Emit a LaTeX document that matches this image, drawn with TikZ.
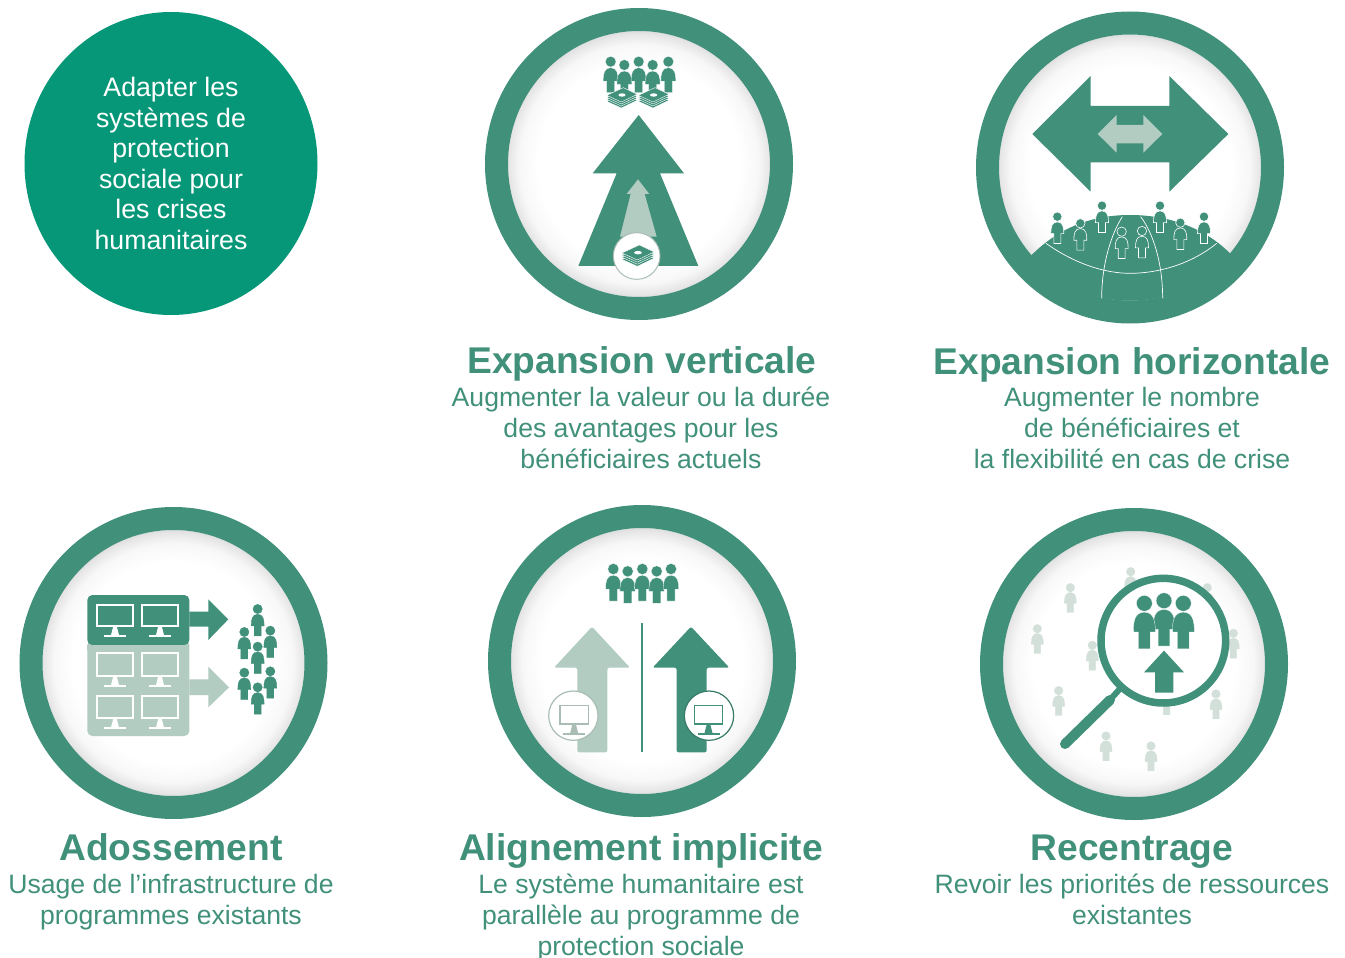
\documentclass[tikz,border=0pt]{standalone}
\usepackage{fontspec}
\setmainfont{Liberation Sans}
\definecolor{gr}{HTML}{40907A}
\definecolor{teal}{HTML}{069778}
\definecolor{lt}{HTML}{B2CCC2}
\definecolor{faint}{HTML}{D3E0DA}
\definecolor{greyline}{HTML}{A9BDB5}
\pgfdeclareradialshading{innershade}{\pgfpoint{0bp}{0bp}}{color(0bp)=(white); color(19bp)=(white); color(22.5bp)=(black!3); color(24.5bp)=(black!10); color(25bp)=(black!13); color(50bp)=(black!13)}
\def\plw{.3pt}
\newcommand\Pers[5]{\begin{scope}[shift={(#1,#2)},scale=#3]
\filldraw[fill=#4,draw=#5,line width=\plw] (0,0) circle (1.08);
\filldraw[fill=#4,draw=#5,line width=\plw] (-.8,6.2) -- (-.8,3.9) -- (-1.5,3.9) .. controls (-1.5,2.4) and (-1.3,1.25) .. (0,1.2) .. controls (1.3,1.25) and (1.5,2.4) .. (1.5,3.9) -- (.8,3.9) -- (.8,6.2) -- cycle;
\end{scope}}
\newcommand\Bill[3]{\filldraw[fill=gr,draw=white,line width=.4pt,shift={(#1,#2)},scale=#3] (-46,1) -- (4,-22) -- (46,-2) -- (-2,21) -- cycle;}
\newcommand\Cash[3]{\Bill{#1}{#2+18*#3}{#3}\Bill{#1}{#2+12*#3}{#3}\Bill{#1}{#2+6*#3}{#3}\Bill{#1}{#2}{#3}
\fill[white,shift={(#1,#2)},scale=#3] (0,0) ellipse (11 and 5);}
\newcommand\Mon[6]{% x1,y1,x2,y2,stroke,lw
\draw[#5,line width=#6] (#1,#2) rectangle (#3,#4);
\fill[#5] ({(#1+#3)/2-5},#4) -- ({(#1+#3)/2+5},#4) -- ({(#1+#3)/2+12},#4+27) -- ({(#1+#3)/2-12},#4+27) -- cycle;
\draw[#5,line width=#6] ({(#1+#3)/2-33},#4+30) -- ({(#1+#3)/2+33},#4+30);}
\tikzset{
 ring/.style={draw=gr,line width=23pt},
 sub/.style={text=gr,align=center,font=\fontsize{26.6}{31}\selectfont,inner sep=0pt},
 ttl/.style={text=gr,font=\fontsize{37.2}{40}\bfseries\selectfont,inner sep=0pt,text height=27pt,text depth=0pt},
 zoomed/.style={scale=0.33333},
 icon/.style={fill=gr},
 iconlt/.style={fill=lt},
}
\begin{document}
\begin{tikzpicture}[x=1pt,y=-1pt]
\useasboundingbox (0,0) rectangle (1345,958);
% discs and rings
\fill[teal] (171,163.5) ellipse (146.5 and 151.5);
\foreach \cx/\cy in {639/164,1130/167.5,173.5/663,642/661,1134/664}{
 \shade[shading=innershade] (\cx,\cy) circle (133);
 \draw[ring] (\cx,\cy) ellipse (142.5 and 144.5);
}
% Expansion verticale
\begin{scope}[shift={(480,0)},zoomed]
\fill[icon] (476,345) -- (612,520) -- (540,520) -- (655,798) -- (295,798) -- (410,520) -- (338,520) -- cycle;
\fill[iconlt] (474,538) -- (508,582) -- (494,582) -- (530,710) -- (420,710) -- (452,582) -- (440,582) -- cycle;
\filldraw[fill=white,draw=greyline,line width=1pt] (470,768) circle (70);
\Cash{474}{758}{1.05}
\foreach \x/\y in {392/185,433/195,476/185,518/195,565/185}{\Pers{\x}{\y}{15}{gr}{white}}
\Cash{426}{285}{1}
\Cash{521}{285}{1}
\end{scope}
% Expansion horizontale
\begin{scope}[shift={(970,0)},zoomed]
\begin{scope}
\clip (480,502) circle (400);
\fill[icon] (185,765) .. controls (270,680) and (370,645) .. (480,645) .. controls (590,645) and (700,680) .. (780,760) -- (900,1000) -- (60,1000) -- cycle;
\end{scope}
\draw[white,line width=.7pt] (228,730) .. controls (320,795) and (410,820) .. (480,820) .. controls (560,820) and (660,795) .. (740,730);
\draw[white,line width=.7pt] (395,895) .. controls (395,790) and (425,700) .. (457,650);
\draw[white,line width=.7pt] (578,895) .. controls (578,790) and (550,700) .. (512,650);
\fill[icon] (187,402) -- (362,228) -- (362,318) -- (598,318) -- (598,228) -- (775,402) -- (598,575) -- (598,487) -- (362,487) -- (362,575) -- cycle;
\fill[iconlt] (383,402) -- (440,345) -- (440,375) -- (520,375) -- (520,345) -- (577,402) -- (520,458) -- (520,430) -- (440,430) -- (440,458) -- cycle;
\def\plw{.6pt}
\foreach \x/\y in {262/650,331/670,396/617,455/695,516/693,570/617,631/668,702/650}{\Pers{\x}{\y}{13}{gr}{white}}
\end{scope}
% Adossement
\begin{scope}[shift={(10,500)},zoomed]
\fill[iconlt,rounded corners=5pt] (232,420) rectangle (538,708);
\fill[icon,rounded corners=5pt] (232,285) rectangle (538,435);
\fill[iconlt] (232,435) rectangle (538,450);
\fill[icon] (538,335) -- (595,335) -- (595,298) -- (655,358) -- (595,420) -- (595,380) -- (538,380) -- cycle;
\fill[iconlt] (538,538) -- (595,538) -- (595,500) -- (657,562) -- (595,622) -- (595,585) -- (538,585) -- cycle;
\foreach \a/\b in {262/368,397/503}{
 \Mon{\a}{314}{\b}{378}{white}{2.2pt}
 \Mon{\a}{460}{\b}{528}{white}{2.2pt}
 \Mon{\a}{587}{\b}{655}{white}{2.2pt}
}
\foreach \x/\y in {743/327,703/396,781/392,743/440,703/518,781/514,743/562}{\Pers{\x}{\y}{13}{gr}{gr}}
\end{scope}
% Alignement implicite
\begin{scope}[shift={(480,500)},zoomed]
\fill[iconlt,rounded corners=2pt] (336,380) -- (450,503) -- (382,503) -- (382,757) -- (292,757) -- (292,503) -- (222,503) -- cycle;
\fill[icon,rounded corners=2pt] (633,380) -- (748,503) -- (680,503) -- (680,757) -- (590,757) -- (590,503) -- (518,503) -- cycle;
\draw[gr,line width=1.7pt] (487,370) -- (487,757);
\filldraw[fill=white,draw=greyline,line width=1.2pt] (280,647) circle (74);
\filldraw[fill=white,draw=gr!85!black,line width=1.2pt] (687,647) circle (74);
\Mon{240}{617}{325}{672}{greyline}{1.6pt}
\Mon{643}{617}{728}{672}{gr}{1.6pt}
\foreach \x/\y in {400/207,443/214,487/207,530/214,573/207}{\Pers{\x}{\y}{15.5}{gr}{white}}
\end{scope}
% Recentrage
\begin{scope}[shift={(970,500)},zoomed]
\foreach \x/\y in {301/263,482/215,712/263,202/386,367/436,790/400,266/572,738/582,408/708,543/738,590/570}{\Pers{\x}{\y}{12}{faint}{faint}}
\draw[gr,line width=10pt,line cap=round] (285,732) -- (420,600);
\draw[gr,line width=6pt] (415,605) -- (460,555);
\filldraw[fill=white,draw=gr,line width=7.5pt] (580,422) circle (187);
\Pers{582}{302}{22}{gr}{white}
\Pers{523}{310}{22}{gr}{white}
\Pers{640}{310}{22}{gr}{white}
\fill[icon] (582,452) -- (642,517) -- (610,517) -- (610,578) -- (555,578) -- (555,517) -- (522,517) -- cycle;
\end{scope}
% texts
\node[text=white,align=center,font=\fontsize{26.7}{30.6}\selectfont,inner sep=0pt] (t0) at (171,163.5) {Adapter les\\systèmes de\\protection\\sociale pour\\les crises\\humanitaires};
\node[ttl] (t1) at (642,360) {Expansion verticale};
\node[sub] (s1) at (641,428) {Augmenter la valeur ou la durée\\des avantages pour les\\bénéficiaires actuels};
\node[ttl] (t2) at (1132,361) {Expansion horizontale};
\node[sub] (s2) at (1132,428) {Augmenter le nombre\\de bénéficiaires et\\la flexibilité en cas de crise};
\node[ttl] (t3) at (171,847) {Adossement};
\node[sub] (s3) at (171,902.5) {Usage de l\symbol{39}infrastructure de\\programmes existants};
\node[ttl] (t4) at (641,847) {Alignement implicite};
\node[sub] (s4) at (641,917) {Le système humanitaire est\\parallèle au programme de\\protection sociale};
\node[ttl] (t5) at (1132,847) {Recentrage};
\node[sub] (s5) at (1132,899.5) {Revoir les priorités de ressources\\existantes};
\end{tikzpicture}
\end{document}
